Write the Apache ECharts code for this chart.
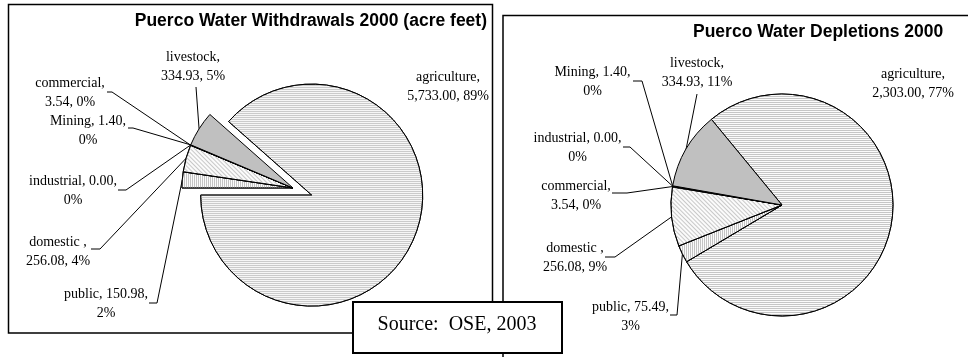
<!DOCTYPE html>
<html><head><meta charset="utf-8">
<script src="https://cdn.jsdelivr.net/npm/echarts@6/dist/echarts.min.js"></script>
<style>html,body{margin:0;padding:0;background:#fff}#c{width:968px;height:357px}</style>
</head><body><div id="c"></div>
<script>
// ---------- data ----------
const categories = ['agriculture', 'public', 'domestic ', 'commercial', 'industrial', 'Mining', 'livestock'];
const withdrawals = [5733.00, 150.98, 256.08, 3.54, 0.00, 1.40, 334.93];
const depletions = [2303.00, 75.49, 256.08, 3.54, 0.00, 1.40, 334.93];
const chartTitles = ['Puerco Water Withdrawals 2000 (acre feet)', 'Puerco Water Depletions 2000'];
const sourceNote = 'Source:  OSE, 2003';
const wrapAfterValue = ['public', 'industrial', 'Mining'];

// ---------- layout (label placement, as set by hand in the original) ----------
const leftLabelPos = {
  'agriculture': {x: 448, y: 86.5},
  'livestock': {x: 193, y: 66.5, line: [196, 87, 196, 87]},
  'commercial': {x: 70, y: 93, line: [112, 92, 107, 92]},
  'Mining': {x: 88, y: 130.5, line: [133, 128, 128, 128]},
  'industrial': {x: 73, y: 191, line: [126, 190, 118, 190]},
  'domestic ': {x: 58, y: 251.5, line: [100, 249, 91, 249]},
  'public': {x: 106, y: 304, line: [157, 303, 149, 303]}
};
const rightLabelPos = {
  'agriculture': {x: 913, y: 84},
  'livestock': {x: 697, y: 73, line: [697, 94, 697, 94]},
  'Mining': {x: 592.5, y: 82, line: [642, 81, 633, 81]},
  'industrial': {x: 577.5, y: 147.5, line: [630, 147, 623, 147]},
  'commercial': {x: 576, y: 195.5, line: [627, 193, 612, 193]},
  'domestic ': {x: 575, y: 258, line: [615, 257, 605, 257]},
  'public': {x: 630.5, y: 317, line: [677, 315, 670, 315]}
};

function fmtNum(v) {
  const s = v.toFixed(2);
  let [i, d] = s.split('.');
  i = i.replace(/\B(?=(\d{3})+(?!\d))/g, ',');
  return i + '.' + d;
}
// whole-number percentages that add to 100 (largest remainder, as the pie labels use)
function percentOf(values, idx) {
  const sum = values.reduce(function (a, b) { return a + b; }, 0);
  const seats = values.map(function (v) { return v / sum * 100; });
  const fl = seats.map(Math.floor);
  let rem = 100 - fl.reduce(function (a, b) { return a + b; }, 0);
  const order = seats.map(function (s, i) { return [s - fl[i], i]; }).sort(function (a, b) { return b[0] - a[0]; });
  for (let k = 0; k < rem; k++) fl[order[k][1]]++;
  return fl[idx];
}
function labelText(name, value, pct) {
  const v = fmtNum(value);
  return wrapAfterValue.indexOf(name) >= 0
    ? name + ', ' + v + ',\n' + pct + '%'
    : name + ',\n' + v + ', ' + pct + '%';
}

const sliceStyles = {
  'agriculture': {color: '#fbfbfb', decal: {symbol: 'rect', symbolSize: 1, dashArrayX: [1, 0], dashArrayY: [1, 1], color: '#c6c6c6'}},
  'public': {color: '#fbfbfb', decal: {symbol: 'rect', symbolSize: 1, dashArrayX: [1, 1], dashArrayY: [1, 0], color: '#c4c4c4'}},
  'domestic ': {color: '#fbfbfb', decal: {symbol: 'rect', symbolSize: 1, dashArrayX: [1, 0], dashArrayY: [1, 1.5], rotation: Math.PI / 4, color: '#c8c8c8'}},
  'commercial': {color: '#ffffff'},
  'industrial': {color: '#ffffff'},
  'Mining': {color: '#ffffff'},
  'livestock': {color: '#c0c0c0'}
};

function makeLayout(pos) {
  return function (params) {
    const name = categories[params.dataIndex];
    const p = pos[name];
    const res = {x: p.x, y: p.y, align: 'center', verticalAlign: 'middle'};
    const pts = params.labelLinePoints;
    if (pts && p.line) {
      res.labelLinePoints = [pts[0], [p.line[0], p.line[1]], [p.line[2], p.line[3]]];
    }
    return res;
  };
}

const serifFont = '"Liberation Serif", "Times New Roman", serif';

function makeSeries(values, center, startAngle, pos, explodeFirst) {
  return {
    type: 'pie',
    center: center,
    radius: 111,
    startAngle: startAngle,
    clockwise: true,
    percentPrecision: 0,
    avoidLabelOverlap: false,
    selectedMode: explodeFirst ? 'single' : false,
    selectedOffset: 20,
    animation: false,
    emphasis: {disabled: true, scale: false},
    itemStyle: {borderColor: '#000', borderWidth: 1},
    label: {
      show: true, position: 'outside', color: '#000',
      fontFamily: serifFont, fontSize: 14, lineHeight: 19,
      formatter: function (p) { return labelText(p.name, p.value, p.percent); }
    },
    labelLine: {show: true, smooth: false, length: 10, length2: 10, lineStyle: {color: '#000', width: 1}},
    labelLayout: makeLayout(pos),
    data: categories.map(function (n, i) {
      const item = {
        name: n, value: values[i],
        itemStyle: sliceStyles[n],
        labelLine: {show: i !== 0}
      };
      if (explodeFirst && i === 0) {
        item.selected = true;
        item.label = {show: false}; // drawn below as text (selected labels ignore the custom layout)
      }
      return item;
    })
  };
}

const chart = echarts.init(document.getElementById('c'), null, {renderer: 'canvas'});
const titleStyle = {fontFamily: '"Liberation Sans", Arial, sans-serif', fontWeight: 'bold', fontSize: 17.5, color: '#000'};
chart.setOption({
  animation: false,
  backgroundColor: '#fff',
  title: [
    {text: chartTitles[0], right: 481, top: 12, padding: 0, textStyle: titleStyle},
    {text: chartTitles[1], left: 693, top: 23, padding: 0, textStyle: titleStyle}
  ],
  graphic: [
    {type: 'rect', silent: true, z: -1, shape: {x: 8.5, y: 4.5, width: 484, height: 328.5}, style: {fill: null, stroke: '#000', lineWidth: 1.5}},
    {type: 'rect', silent: true, z: -1, shape: {x: 503, y: 15.5, width: 520, height: 400}, style: {fill: null, stroke: '#000', lineWidth: 1.5}},
    {type: 'text', silent: true, z: 50, x: leftLabelPos.agriculture.x, y: leftLabelPos.agriculture.y,
      style: {text: labelText(categories[0], withdrawals[0], percentOf(withdrawals, 0)), font: '14px ' + serifFont, lineHeight: 19, fill: '#000', align: 'center', verticalAlign: 'middle'}},
    {type: 'rect', silent: true, z: 100, shape: {x: 353, y: 302, width: 209, height: 51}, style: {fill: '#fff', stroke: '#000', lineWidth: 2}},
    {type: 'text', silent: true, z: 101, x: 457, y: 325, style: {text: sourceNote, font: '20px ' + serifFont, fill: '#000', align: 'center', verticalAlign: 'middle'}}
  ],
  series: [
    makeSeries(withdrawals, [293, 188], 138.5, leftLabelPos, true),
    makeSeries(depletions, [782, 205], 129.5, rightLabelPos, false)
  ]
});
</script></body></html>
